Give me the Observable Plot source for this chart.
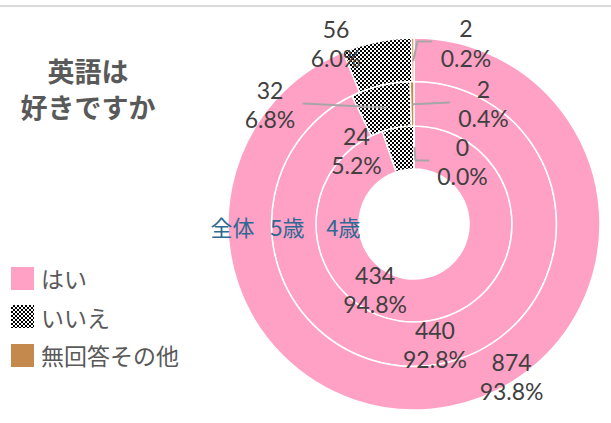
<!DOCTYPE html>
<html><head><meta charset="utf-8">
<script src="https://cdn.jsdelivr.net/npm/d3@7"></script>
<script src="https://cdn.jsdelivr.net/npm/@observablehq/plot@0.6"></script>
<style>
html,body{margin:0;padding:0;background:#fff;}
#wrap{position:relative;width:611px;height:423px;overflow:hidden;font-family:"Noto Sans CJK JP",sans-serif;}
#chart{position:absolute;left:0;top:0;}
#topline{position:absolute;left:0;top:5px;width:611px;height:2px;background:#d9d9d9;}
.title{position:absolute;left:0;width:176px;height:36px;text-align:center;font-size:27px;font-weight:bold;line-height:36px;color:#595959;white-space:nowrap;}
.leg{position:absolute;left:11px;display:flex;align-items:center;height:30px;font-size:23px;color:#595959;white-space:nowrap;}
.sw{width:23px;height:23px;margin-right:7px;flex:none;}
</style></head>
<body>
<div id="wrap"><div id="chart"></div><div id="topline"></div>
<div class="title" style="top:53px">英語は</div><div class="title" style="top:89px">好きですか</div>
<div id="legend"></div></div>
<script>
// ---- data ----
const categories = ["はい", "いいえ", "無回答その他"];
const rings = ["4歳", "5歳", "全体"]; // inner -> outer
const counts4 = [434, 24, 0];
const counts5 = [440, 32, 2];
const countsAll = [874, 56, 2];
const pct4 = ["94.8%", "5.2%", "0.0%"];
const pct5 = ["92.8%", "6.8%", "0.4%"];
const pctAll = ["93.8%", "6.0%", "0.2%"];

// ---- layout / style (data units: 1 = outer radius) ----
const ringRadii = [[0.296, 0.527], [0.527, 0.766], [0.766, 1]];
const fills = ["#ffa0c5", "url(#checker)", "#c4894d"];
const legendSwatch = ["#ffa0c5", "repeating-conic-gradient(#000 0 25%, #fff 0 50%) 0 0/4px 4px", "#c4894d"];
const labelPos = [
  [[-0.212, -0.349], [-0.312, 0.398], [0.258, 0.341]],
  [[0.110, -0.645], [-0.777, 0.645], [0.371, 0.653]],
  [[0.522, -0.817], [-0.422, 0.973], [0.277, 0.978]]
];
const ringLabelX = [-0.382, -0.683, -0.978];
const ringLabelY = -0.022;
const leaders = [
  {ri: 2, ci: 2, pts: [[0.016, 0.984], [0.091, 0.984]]},
  {ri: 1, ci: 2, pts: [[0.188, 0.656]]},
  {ri: 0, ci: 2, pts: [[0.005, 0.344], [0.075, 0.344]]},
  {ri: 1, ci: 1, pts: [[-0.597, 0.651]]}
];

const ringCounts = [counts4, counts5, countsAll];
const ringPcts = [pct4, pct5, pctAll];
const slices = [];
ringCounts.forEach((vals, ri) => {
  const total = d3.sum(vals);
  let acc = 0;
  vals.forEach((v, ci) => {
    const a0 = acc / total * 2 * Math.PI; acc += v;
    const a1 = acc / total * 2 * Math.PI;
    const [r0, r1] = ringRadii[ri];
    const m = (a0 + a1) / 2, rm = (r0 + r1) / 2;
    slices.push({ri, ci, ring: rings[ri], category: categories[ci], value: v, pct: ringPcts[ri][ci],
      a0, a1, r0, r1, cx: rm * Math.sin(m), cy: rm * Math.cos(m),
      lx: labelPos[ri][ci][0], ly: labelPos[ri][ci][1]});
  });
});
const leaderPts = [];
leaders.forEach((l, k) => {
  const s = slices.find(d => d.ri === l.ri && d.ci === l.ci);
  leaderPts.push({id: k, x: s.cx, y: s.cy});
  l.pts.forEach(p => leaderPts.push({id: k, x: p[0], y: p[1]}));
});

function donut(index, scales) {
  const x0 = scales.x(0), y0 = scales.y(0), unit = scales.x(1) - scales.x(0);
  const g = d3.create("svg:g");
  const pat = g.append("defs").append("pattern").attr("id", "checker")
    .attr("width", 4).attr("height", 4).attr("patternUnits", "userSpaceOnUse");
  pat.append("rect").attr("width", 4).attr("height", 4).attr("fill", "#fff");
  pat.append("rect").attr("width", 2).attr("height", 2).attr("fill", "#000");
  pat.append("rect").attr("x", 2).attr("y", 2).attr("width", 2).attr("height", 2).attr("fill", "#000");
  const arc = d3.arc();
  g.append("g").attr("transform", `translate(${x0},${y0})`)
    .selectAll("path").data(slices).join("path")
    .attr("d", d => arc({innerRadius: d.r0 * unit, outerRadius: d.r1 * unit, startAngle: d.a0, endAngle: d.a1}))
    .attr("fill", d => fills[d.ci])
    .attr("stroke", "#fff").attr("stroke-width", 1.5).attr("stroke-linejoin", "round");
  return g.node();
}

const plot = Plot.plot({
  width: 611, height: 423,
  marginLeft: 228, marginRight: 11, marginTop: 38, marginBottom: 13,
  x: {domain: [-1, 1], axis: null},
  y: {domain: [-1, 1], axis: null},
  style: {background: "transparent", overflow: "visible"},
  marks: [
    donut,
    Plot.line(leaderPts, {x: "x", y: "y", z: "id", stroke: "#a6a6a6", strokeWidth: 2}),
    Plot.text(slices, {x: "lx", y: "ly", text: d => `${d.value}\n${d.pct}`, fontSize: 23, fontFamily: "Lato", fill: "#404040", lineHeight: 1.27}),
    Plot.text(rings, {x: (d, i) => ringLabelX[i], y: () => ringLabelY, text: d => d, fontSize: 22, fontFamily: "Noto Sans CJK JP", fill: "#2e6a93"})
  ]
});
document.getElementById("chart").appendChild(plot);

const legend = document.getElementById("legend");
const legendTops = [263, 301.5, 340];
categories.forEach((c, i) => {
  const row = document.createElement("div");
  row.className = "leg";
  row.style.top = legendTops[i] + "px";
  const sw = document.createElement("div");
  sw.className = "sw";
  sw.style.background = legendSwatch[i];
  const t = document.createElement("span");
  t.textContent = c;
  row.appendChild(sw); row.appendChild(t);
  legend.appendChild(row);
});
</script>
</body></html>
